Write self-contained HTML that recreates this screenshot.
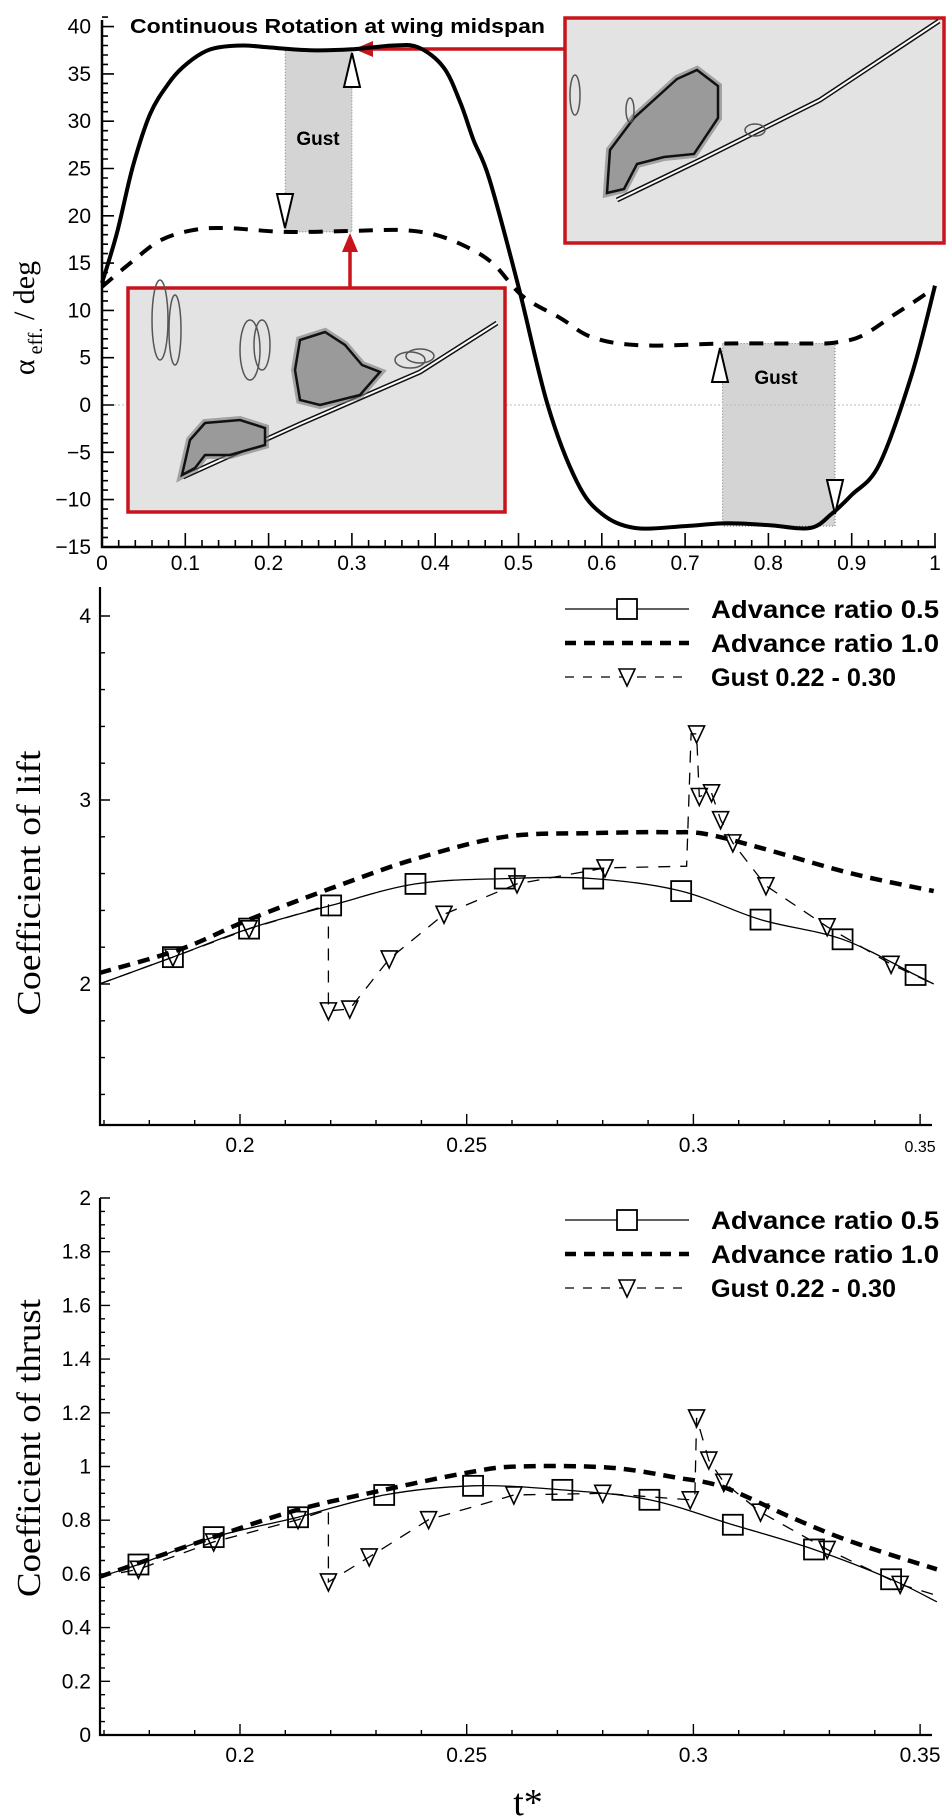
<!DOCTYPE html>
<html><head><meta charset="utf-8"><style>
html,body{margin:0;padding:0;background:#fff}
svg{display:block}
text{font-family:"Liberation Sans",sans-serif;fill:#000}
.serif{font-family:"Liberation Serif",serif}
</style></head><body>
<svg id="fig" width="952" height="1820" viewBox="0 0 952 1820" xmlns="http://www.w3.org/2000/svg">
<g id="topchart"></g>
<g id="liftchart"></g>
<g id="thrustchart"></g>
</svg>
<script>
// ---------- Top chart data ----------
const alphaT = [0,0.018,0.037,0.058,0.08,0.097,0.12,0.14,0.17,0.2,0.25,0.3,0.35,0.38,0.41,0.43,0.446,0.465,0.5,0.535,0.57,0.6,0.64,0.7,0.75,0.8,0.85,0.876,0.9,0.933,0.972,1.0];
const alphaRot = [12.9,18.2,25.2,30.8,34,35.7,37.2,37.8,38,37.8,37.5,37.6,38,37.8,35.7,32,28,23.9,12.5,0,-8.1,-11.5,-13,-12.8,-12.5,-12.7,-13,-11.5,-9.5,-6.3,3.2,12.6];
const alphaT2 = [0,0.034,0.07,0.11,0.15,0.22,0.3,0.358,0.4,0.438,0.47,0.505,0.55,0.59,0.65,0.75,0.85,0.88,0.912,0.952,0.985,1.0];
const alphaAR1 = [12.5,15,17.4,18.5,18.7,18.3,18.4,18.5,18,16.7,14.9,11.5,9.2,7.1,6.3,6.5,6.5,6.6,7.3,9.6,11.5,12.5];
const topXTicks = [0,0.1,0.2,0.3,0.4,0.5,0.6,0.7,0.8,0.9,1];
const topXLabels = ["0","0.1","0.2","0.3","0.4","0.5","0.6","0.7","0.8","0.9","1"];
const topYTicks = [-15,-10,-5,0,5,10,15,20,25,30,35,40];
const gustWindows = [[0.22,0.30],[0.745,0.88]];

// ---------- Lift data ----------
const liftTSq = [0.1852,0.202,0.2201,0.2387,0.2584,0.2779,0.2973,0.3148,0.3329,0.349];
const liftSq = [2.146,2.301,2.427,2.544,2.573,2.573,2.505,2.350,2.243,2.049];
const liftTLine05 = [0.169,0.1852,0.202,0.2201,0.2387,0.2584,0.2779,0.2973,0.3148,0.3329,0.349,0.353];
const liftLine05 = [2.0,2.146,2.301,2.427,2.544,2.573,2.573,2.505,2.350,2.243,2.049,2.0];
const liftT10 = [0.169,0.187,0.202,0.2201,0.2387,0.2584,0.2779,0.2946,0.3027,0.3148,0.335,0.353];
const lift10 = [2.06,2.19,2.35,2.52,2.68,2.80,2.82,2.825,2.815,2.74,2.60,2.505];
const liftTGust = [0.1852,0.202,0.2195,0.2242,0.2329,0.245,0.2611,0.2805,0.3007,0.3013,0.304,0.306,0.3087,0.316,0.3295,0.3436];
const liftGust = [2.146,2.30,1.854,1.864,2.136,2.379,2.544,2.631,3.359,3.019,3.039,2.893,2.767,2.534,2.311,2.107];
const liftTGustLine = [0.169,0.1852,0.202,0.2195,0.2195,0.2242,0.2329,0.245,0.2611,0.2805,0.2985,0.2995,0.3007,0.3013,0.304,0.306,0.3087,0.316,0.3295,0.3436,0.353];
const liftGustLine = [2.0,2.146,2.30,2.43,1.854,1.864,2.136,2.379,2.544,2.631,2.64,3.36,3.359,3.019,3.039,2.893,2.767,2.534,2.311,2.107,2.0];

// ---------- Thrust data ----------
const thrTSq = [0.1776,0.1942,0.2128,0.2318,0.2514,0.2711,0.2903,0.3087,0.3266,0.3436];
const thrSq = [0.635,0.737,0.811,0.894,0.928,0.913,0.876,0.783,0.691,0.580];
const thrTLine05 = [0.169,0.1776,0.1942,0.2128,0.2318,0.2514,0.2711,0.2903,0.3087,0.3266,0.3436,0.3537];
const thrLine05 = [0.589,0.635,0.737,0.811,0.894,0.928,0.913,0.876,0.783,0.691,0.580,0.496];
const thrT10 = [0.169,0.1942,0.2128,0.2318,0.2505,0.2612,0.2813,0.2961,0.3068,0.3215,0.335,0.3537];
const thr10 = [0.589,0.737,0.839,0.913,0.978,1.0,0.996,0.959,0.922,0.811,0.719,0.617];
const thrTGust = [0.1776,0.1942,0.2128,0.2195,0.2285,0.2416,0.2604,0.28,0.2993,0.3007,0.3034,0.3067,0.3148,0.3295,0.3456];
const thrGust = [0.617,0.719,0.802,0.570,0.663,0.802,0.894,0.90,0.876,1.181,1.024,0.941,0.830,0.691,0.561];
const thrTGustLine = [0.169,0.1776,0.1942,0.2128,0.2195,0.2195,0.2285,0.2416,0.2604,0.28,0.2993,0.3003,0.3007,0.3034,0.3067,0.3148,0.3295,0.3456,0.3537];
const thrGustLine = [0.589,0.617,0.719,0.802,0.84,0.570,0.663,0.802,0.894,0.90,0.876,0.88,1.181,1.024,0.941,0.830,0.691,0.561,0.52];

const lowXTicks = [0.2,0.25,0.3,0.35];
const lowXLabels = ["0.2","0.25","0.3","0.35"];
const liftYTicks = [2,3,4];
const thrYTicks = [0,0.2,0.4,0.6,0.8,1,1.2,1.4,1.6,1.8,2];
const thrYLabels = ["0","0.2","0.4","0.6","0.8","1","1.2","1.4","1.6","1.8","2"];

// ---------- helpers ----------
const SVGNS = "http://www.w3.org/2000/svg";
function mk(parent, tag, attrs, text){
  const e = document.createElementNS(SVGNS, tag);
  for (const k in attrs) e.setAttribute(k, attrs[k]);
  if (text !== undefined) e.textContent = text;
  parent.appendChild(e);
  return e;
}
function smoothPath(pts){
  let d = "M"+pts[0][0].toFixed(1)+","+pts[0][1].toFixed(1);
  for (let i=0;i<pts.length-1;i++){
    const p0=pts[Math.max(i-1,0)], p1=pts[i], p2=pts[i+1], p3=pts[Math.min(i+2,pts.length-1)];
    const c1=[p1[0]+(p2[0]-p0[0])/6, p1[1]+(p2[1]-p0[1])/6];
    const c2=[p2[0]-(p3[0]-p1[0])/6, p2[1]-(p3[1]-p1[1])/6];
    d+=" C"+c1[0].toFixed(1)+","+c1[1].toFixed(1)+" "+c2[0].toFixed(1)+","+c2[1].toFixed(1)+" "+p2[0].toFixed(1)+","+p2[1].toFixed(1);
  }
  return d;
}
function linePath(pts){ return "M"+pts.map(p=>p[0].toFixed(1)+","+p[1].toFixed(1)).join(" L"); }

// ---------- TOP CHART ----------
const topG = document.getElementById('topchart');
const tx = t => 102 + 833*t;
const ty = v => 405 - 9.46*v;

gustWindows.forEach((w,i)=>{
  const x1=tx(w[0]), x2=tx(w[1]);
  const yTop = i===0 ? ty(37.5) : ty(6.5);
  const yBot = i===0 ? ty(18.3) : ty(-12.8);
  const r = mk(topG,'rect',{x:x1,y:yTop,width:x2-x1,height:yBot-yTop,fill:'#d4d4d4',stroke:'#777','stroke-width':1,'stroke-dasharray':'1,2'});
  
  
});
const zl = mk(topG,'line',{x1:102,x2:920,y1:ty(0),y2:ty(0),stroke:'#bbb','stroke-width':1,'stroke-dasharray':'2,2'});



function inset(x,y,w,h,name,wing,blobs){
  const g = mk(topG,'g',{});
  
  
  mk(g,'rect',{x:x,y:y,width:w,height:h,fill:'#e3e3e3',stroke:'#c8141b','stroke-width':3.5});
  mk(g,'path',{d:wing,fill:'none',stroke:'#111','stroke-width':5});
  mk(g,'path',{d:wing,fill:'none',stroke:'#fff','stroke-width':2});
  blobs.forEach(b=>{
    mk(g,'path',{d:b,fill:'none',stroke:'#777','stroke-width':8,opacity:0.6});
    mk(g,'path',{d:b,fill:'#9a9a9a',stroke:'#111','stroke-width':2.5});
  });
  return g;
}
const in1 = inset(128,288,377,224,'inset-flow-1',
  'M183,477 L300,424 L420,372 L497,323',
  ['M182,475 L190,440 L205,423 L240,420 L265,428 L265,445 L230,455 L205,455 L195,468 Z',
   'M300,340 L325,332 L345,345 L362,365 L380,372 L360,395 L320,405 L300,400 L295,370 Z']);
[[160,320,8,40],[175,330,6,35],[250,350,10,30],[262,345,8,25],[410,360,15,8],[420,356,14,7]].forEach(e=>{
  mk(in1,'ellipse',{cx:e[0],cy:e[1],rx:e[2],ry:e[3],fill:'none',stroke:'#555','stroke-width':1.5});
});
const in2 = inset(565,18,379,225,'inset-flow-2',
  'M617,200 L700,160 L820,100 L939,21',
  ['M607,193 L610,150 L634,118 L677,79 L697,70 L718,86 L718,118 L694,154 L664,157 L637,164 L624,189 Z']);
[[575,95,5,20],[630,110,4,12],[755,130,10,6]].forEach(e=>{
  mk(in2,'ellipse',{cx:e[0],cy:e[1],rx:e[2],ry:e[3],fill:'none',stroke:'#555','stroke-width':1.5});
});

const red1 = mk(topG,'path',{d:'M350,288 L350,250',stroke:'#c8141b','stroke-width':3.5,fill:'none'});


mk(topG,'polygon',{points:'350,233 342,252 358,252',fill:'#c8141b'});
const red2 = mk(topG,'path',{d:'M565,49 L372,49',stroke:'#c8141b','stroke-width':3.5,fill:'none'});


mk(topG,'polygon',{points:'354,49 373,41 373,57',fill:'#c8141b'});

const cRot = mk(topG,'path',{d:smoothPath(alphaT.map((t,i)=>[tx(t),ty(alphaRot[i])])),fill:'none',stroke:'#000','stroke-width':4});


const cAR = mk(topG,'path',{d:smoothPath(alphaT2.map((t,i)=>[tx(t),ty(alphaAR1[i])])),fill:'none',stroke:'#000','stroke-width':4,'stroke-dasharray':'14,11'});



function openArrow(x,tip,up,name){
  const h=34, w=8;
  const base = up ? tip+h : tip-h;
  const p = mk(topG,'polygon',{points:`${x},${tip} ${x-w},${base} ${x+w},${base}`,fill:'#fff',stroke:'#000','stroke-width':2});
  
  
}
openArrow(285,228,false,'gust-arrow-down-1');
openArrow(352,53,true,'gust-arrow-up-1');
openArrow(720,348,true,'gust-arrow-up-2');
openArrow(835,514,false,'gust-arrow-down-2');
const g1 = mk(topG,'text',{x:318,y:145,'font-size':19,'font-weight':'bold','text-anchor':'middle'},'Gust');


const g2 = mk(topG,'text',{x:776,y:384,'font-size':19,'font-weight':'bold','text-anchor':'middle'},'Gust');



const ttl = mk(topG,'text',{x:130,y:33,'font-size':20,'font-weight':'bold',textLength:415,lengthAdjust:'spacingAndGlyphs'},'Continuous Rotation at wing midspan');



const topAx = mk(topG,'path',{d:`M102,20 L102,547 L936,547`,fill:'none',stroke:'#000','stroke-width':2.5});


let tk='';
for(let v=-15; v<=41; v++){ const y=ty(v); const L = v%5===0?12:6; tk+=`M102,${y.toFixed(1)} h${L} `; }
for(let i=0;i<=50;i++){ const t=i*0.02; const x=tx(t); const L = i%5===0?14:7; tk+=`M${x.toFixed(1)},547 v-${L} `; }
mk(topG,'path',{d:tk,stroke:'#000','stroke-width':1.6,fill:'none'});
topYTicks.forEach(v=>{
  const t = mk(topG,'text',{x:91,y:ty(v)+7,'font-size':21,'text-anchor':'end'},(v<0?'\u2212'+(-v):String(v)));
  
  
});
topXTicks.forEach((v,i)=>{
  const t = mk(topG,'text',{x:tx(v),y:570,'font-size':21,'text-anchor':'middle'},topXLabels[i]);
  
  
});
const yt = mk(topG,'text',{class:'serif','font-size':30,'text-anchor':'middle',transform:'translate(34,318) rotate(-90)'});


mk(yt,'tspan',{},'\u03b1');
mk(yt,'tspan',{'font-size':20,dy:8},' eff.');
mk(yt,'tspan',{dy:-8},' / deg');

// ---------- LOWER CHARTS ----------
const X = t => 240 + 4534*(t-0.2);
function square(g,x,y,name){
  const r = mk(g,'rect',{x:x-10,y:y-10,width:20,height:20,fill:'none',stroke:'#000','stroke-width':1.8});
  
  
}
function tri(g,x,y,name){
  const p = mk(g,'polygon',{points:`${x-8},${y-8} ${x+8},${y-8} ${x},${y+9}`,fill:'none',stroke:'#000','stroke-width':1.6});
  
  
}
function legend(g,y0){
  const rows = ['Advance ratio 0.5','Advance ratio 1.0','Gust 0.22 - 0.30'];
  rows.forEach((s,i)=>{
    const y = y0 + i*34;
    const e = mk(g,'g',{});
    
    
    if(i===0){ mk(e,'line',{x1:565,x2:689,y1:y,y2:y,stroke:'#000','stroke-width':1.3}); mk(e,'rect',{x:617,y:y-10,width:20,height:20,fill:'#fff',stroke:'#000','stroke-width':1.8}); }
    if(i===1){ mk(e,'line',{x1:565,x2:689,y1:y,y2:y,stroke:'#000','stroke-width':4.5,'stroke-dasharray':'11,8'}); }
    if(i===2){ mk(e,'line',{x1:565,x2:689,y1:y,y2:y,stroke:'#000','stroke-width':1.3,'stroke-dasharray':'9,9'}); mk(e,'polygon',{points:`619,${y-8} 635,${y-8} 627,${y+9}`,fill:'#fff',stroke:'#000','stroke-width':1.6}); }
    mk(e,'text',{x:711,y:y+9,'font-size':25,'font-weight':'bold',textLength:i===2?185:228,lengthAdjust:'spacingAndGlyphs'},s);
  });
}
function drawLower(g,Y,yTopPx,yBotPx,d){
  const l05 = mk(g,'path',{d:smoothPath(d.t05.map((t,i)=>[X(t),Y(d.v05[i])])),fill:'none',stroke:'#000','stroke-width':1.3});
  
  
  const l10 = mk(g,'path',{d:smoothPath(d.t10.map((t,i)=>[X(t),Y(d.v10[i])])),fill:'none',stroke:'#000','stroke-width':4.5,'stroke-dasharray':'12,8'});
  
  
  const lg = mk(g,'path',{d:linePath(d.tgl.map((t,i)=>[X(t),Y(d.vgl[i])])),fill:'none',stroke:'#000','stroke-width':1.3,'stroke-dasharray':'12,10'});
  
  
  d.tsq.forEach((t,i)=>square(g,X(t),Y(d.vsq[i]),'advance-ratio-0.5-marker'));
  d.tg.forEach((t,i)=>tri(g,X(t),Y(d.vg[i]),'gust-marker'));
  const ax = mk(g,'path',{d:`M100,${yTopPx} L100,${yBotPx} L932,${yBotPx}`,fill:'none',stroke:'#000','stroke-width':2.2});
  
  
  let k='';
  for(let i=17;i<=35;i++){ const t=i/100; const x=X(t); const L=(i%5===0)?11:5; k+=`M${x.toFixed(1)},${yBotPx} v-${L} `; }
  mk(g,'path',{d:k,stroke:'#000','stroke-width':1.4,fill:'none'});
}

// LIFT
const liftG = document.getElementById('liftchart');
const YL = v => 984 - 184*(v-2);
drawLower(liftG,YL,587,1125,{t05:liftTLine05,v05:liftLine05,t10:liftT10,v10:lift10,tgl:liftTGustLine,vgl:liftGustLine,tsq:liftTSq,vsq:liftSq,tg:liftTGust,vg:liftGust});
let ltk='';
for(let i=7;i<=20;i++){ const v=i*0.2; const y=YL(v); if(y<587) continue; const L=(Math.abs(v-Math.round(v))<1e-6)?10:5; ltk+=`M100,${y.toFixed(1)} h${L} `; }
mk(liftG,'path',{d:ltk,stroke:'#000','stroke-width':1.4,fill:'none'});
liftYTicks.forEach(v=>{
  const t = mk(liftG,'text',{x:91,y:YL(v)+7,'font-size':21,'text-anchor':'end'},String(v));
  
  
});
lowXTicks.forEach((v,i)=>{
  const t = mk(liftG,'text',{x:X(v),y:1152,'font-size':i===3?16:21,'text-anchor':'middle'},lowXLabels[i]);
  
  
});
const lyt = mk(liftG,'text',{class:'serif','font-size':34,'text-anchor':'middle',transform:'translate(40,883) rotate(-90)',textLength:265,lengthAdjust:'spacingAndGlyphs'},'Coefficient of lift');


const llg = mk(liftG,'g',{});


legend(llg,609);

// THRUST
const thrG = document.getElementById('thrustchart');
const YT = v => 1735 - 268.5*v;
drawLower(thrG,YT,1198,1735,{t05:thrTLine05,v05:thrLine05,t10:thrT10,v10:thr10,tgl:thrTGustLine,vgl:thrGustLine,tsq:thrTSq,vsq:thrSq,tg:thrTGust,vg:thrGust});
let ttk='';
for(let i=0;i<=40;i++){ const v=i*0.05; const y=YT(v); const L=(i%4===0)?10:5; ttk+=`M100,${y.toFixed(1)} h${L} `; }
mk(thrG,'path',{d:ttk,stroke:'#000','stroke-width':1.4,fill:'none'});
thrYTicks.forEach((v,i)=>{
  const t = mk(thrG,'text',{x:91,y:YT(v)+7,'font-size':21,'text-anchor':'end'},thrYLabels[i]);
  
  
});
lowXTicks.forEach((v,i)=>{
  const t = mk(thrG,'text',{x:X(v),y:1762,'font-size':21,'text-anchor':'middle'},lowXLabels[i]);
  
  
});
const tyt = mk(thrG,'text',{class:'serif','font-size':34,'text-anchor':'middle',transform:'translate(40,1448) rotate(-90)',textLength:298,lengthAdjust:'spacingAndGlyphs'},'Coefficient of thrust');


const tlg = mk(thrG,'g',{});


legend(tlg,1220);
const xt = mk(thrG,'text',{class:'serif',x:528,y:1815,'font-size':38,'text-anchor':'middle'},'t*');


</script>
</body></html>
